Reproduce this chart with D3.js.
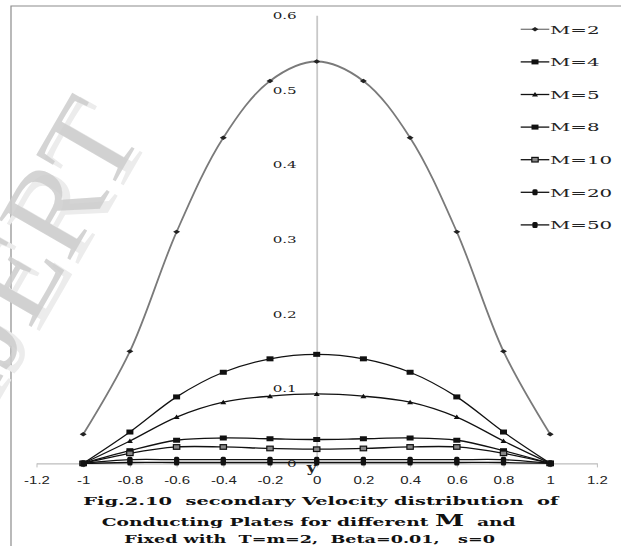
<!DOCTYPE html>
<html>
<head>
<meta charset="utf-8">
<script src="https://cdn.jsdelivr.net/npm/d3@7/dist/d3.min.js"></script>
<style>
  html, body { margin: 0; padding: 0; background: #fff; }
  svg { display: block; }
  .pre { white-space: pre; }
</style>
</head>
<body>
<svg id="chart" width="621" height="546"></svg>
<script>
// y positions across the channel
const yPositions = [-1, -0.8, -0.6, -0.4, -0.2, 0, 0.2, 0.4, 0.6, 0.8, 1];

// secondary velocity for each Hartmann number M
const velM2  = [0.039, 0.150, 0.310, 0.436, 0.512, 0.538, 0.512, 0.436, 0.310, 0.150, 0.039];
const velM4  = [0, 0.042, 0.089, 0.122, 0.140, 0.146, 0.140, 0.122, 0.089, 0.042, 0];
const velM5  = [0, 0.030, 0.062, 0.082, 0.090, 0.093, 0.090, 0.082, 0.062, 0.030, 0];
const velM8  = [0, 0.017, 0.031, 0.034, 0.033, 0.032, 0.033, 0.034, 0.031, 0.017, 0];
const velM10 = [0, 0.0135, 0.022, 0.022, 0.020, 0.019, 0.020, 0.022, 0.022, 0.0135, 0];
const velM20 = [0, 0.005, 0.005, 0.005, 0.005, 0.005, 0.005, 0.005, 0.005, 0.005, 0];
const velM50 = [0, 0.0012, 0.0012, 0.0012, 0.0012, 0.0012, 0.0012, 0.0012, 0.0012, 0.0012, 0];

const seriesNames = ["M=2", "M=4", "M=5", "M=8", "M=10", "M=20", "M=50"];
const seriesValues = [velM2, velM4, velM5, velM8, velM10, velM20, velM50];
const markerKinds = ["diamond", "square", "triangle", "square", "hollow", "dot", "dot"];

const xTicks = [-1.2, -1, -0.8, -0.6, -0.4, -0.2, 0, 0.2, 0.4, 0.6, 0.8, 1, 1.2];
const yTicks = [0, 0.1, 0.2, 0.3, 0.4, 0.5, 0.6];

const captionLines = [
  "Fig.2.10  secondary Velocity distribution  of",
  ["Conducting Plates for different ", "M", "  and"],
  "Fixed with  T=m=2,  Beta=0.01,   s=0"
];

const svg = d3.select("#chart");

const x = d3.scaleLinear().domain([-1.2, 1.2]).range([36.5, 596.9]);
const y = d3.scaleLinear().domain([0, 0.6]).range([463.4, 15.2]);

// page frame (top and left rules)
svg.append("path")
  .attr("d", "M11,546 L11,6 L621,6")
  .attr("fill", "none").attr("stroke", "#8c8c8c").attr("stroke-width", 1.2);

// x axis
const xAxis = svg.append("g")
  .attr("transform", `translate(0,${y(0)})`)
  .call(d3.axisBottom(x).tickValues(xTicks).tickSize(4).tickSizeOuter(0)
    .tickFormat(d => String(+d.toFixed(1))));
xAxis.select(".domain").attr("stroke", "#bdbdbd").attr("stroke-width", 1.2);
xAxis.selectAll(".tick line").attr("stroke", "#bdbdbd");
xAxis.selectAll(".tick text")
  .attr("y", 21).attr("dy", 0)
  .attr("font-family", "Liberation Sans, Arial, sans-serif")
  .attr("font-size", 10).attr("fill", "#222")
  .attr("transform", "scale(1.5,1)");

// y axis through y = 0
const yAxis = svg.append("g")
  .attr("transform", `translate(${x(0)},0)`)
  .call(d3.axisLeft(y).tickValues(yTicks).tickSize(0).tickSizeOuter(0)
    .tickFormat(d => String(+d.toFixed(1))));
yAxis.select(".domain").attr("stroke", "#c8c8c8").attr("stroke-width", 1.8);
yAxis.selectAll(".tick text")
  .attr("x", -20 / 1.68).attr("dy", "0.35em")
  .attr("font-family", "DejaVu Serif, serif")
  .attr("font-size", 9).attr("fill", "#222")
  .attr("transform", "scale(1.68,1)");

// axis title
svg.append("text")
  .attr("transform", `translate(${x(0) - 5},472) scale(1.3,1)`)
  .attr("text-anchor", "middle")
  .attr("font-family", "DejaVu Serif, serif").attr("font-weight", "bold")
  .attr("font-size", 13).attr("fill", "#222")
  .text("y");

// marker drawing
function drawMarker(g, kind) {
  if (kind === "diamond") {
    g.append("path").attr("d", "M-3.5,0 L0,-2.2 L3.5,0 L0,2.2 Z").attr("fill", "#222");
  } else if (kind === "square") {
    g.append("rect").attr("x", -3.5).attr("y", -2.5).attr("width", 7).attr("height", 5).attr("fill", "#111");
  } else if (kind === "triangle") {
    g.append("path").attr("d", "M-3,2 L0,-2.5 L3,2 Z").attr("fill", "#111");
  } else if (kind === "hollow") {
    g.append("rect").attr("x", -3.2).attr("y", -2.3).attr("width", 6.4).attr("height", 4.6)
      .attr("fill", "#888").attr("stroke", "#111").attr("stroke-width", 1.2);
  } else {
    g.append("rect").attr("x", -2.6).attr("y", -3).attr("width", 5.2).attr("height", 6).attr("rx", 1.5).attr("fill", "#111");
  }
}

const line = d3.line()
  .x(d => x(d[0]))
  .y(d => y(d[1]))
  .curve(d3.curveCatmullRom.alpha(0.5));

const plot = svg.append("g");
seriesValues.forEach((vals, i) => {
  const pts = yPositions.map((p, j) => [p, vals[j]]);
  const color = i === 0 ? "#7a7a7a" : "#111";
  plot.append("path")
    .datum(pts)
    .attr("d", line)
    .attr("fill", "none")
    .attr("stroke", color)
    .attr("stroke-width", i === 0 ? 1.8 : 1.3);
  pts.forEach(pt => {
    const m = plot.append("g").attr("transform", `translate(${x(pt[0])},${y(pt[1])})`);
    drawMarker(m, markerKinds[i]);
  });
});

// legend
const legend = svg.append("g");
seriesNames.forEach((name, i) => {
  const ly = 29.3 + i * 32.6;
  const color = i === 0 ? "#7a7a7a" : "#111";
  legend.append("line")
    .attr("x1", 520.7).attr("x2", 549.3).attr("y1", ly).attr("y2", ly)
    .attr("stroke", color).attr("stroke-width", 1.3);
  const m = legend.append("g").attr("transform", `translate(535,${ly})`);
  drawMarker(m, markerKinds[i]);
  legend.append("text")
    .attr("transform", `translate(550,${ly + 4.2}) scale(1.74,1)`)
    .attr("font-family", "DejaVu Serif, serif")
    .attr("font-size", 11.4).attr("fill", "#222")
    .text(name);
});

// caption
const cap = svg.append("g")
  .attr("font-family", "DejaVu Serif, serif")
  .attr("font-weight", "bold").attr("fill", "#111");
cap.append("text").attr("class", "pre")
  .attr("x", 83.3).attr("y", 505.2).attr("font-size", 11.4)
  .attr("textLength", 475).attr("lengthAdjust", "spacingAndGlyphs")
  .text(captionLines[0]);
const l2 = cap.append("text").attr("class", "pre")
  .attr("x", 101.7).attr("y", 525.8).attr("font-size", 11.4)
  .attr("textLength", 414).attr("lengthAdjust", "spacingAndGlyphs");
l2.append("tspan").text(captionLines[1][0]);
l2.append("tspan").attr("font-size", 16).text(captionLines[1][1]);
l2.append("tspan").text(captionLines[1][2]);
cap.append("text").attr("class", "pre")
  .attr("x", 124.3).attr("y", 542.5).attr("font-size", 11.4)
  .attr("textLength", 370.7).attr("lengthAdjust", "spacingAndGlyphs")
  .text(captionLines[2]);

// publisher watermark: pale shadow copy, then the main copy
const wm = svg.append("g")
  .attr("font-family", "Liberation Serif, serif")
  .attr("font-size", 125);
wm.append("text")
  .attr("transform", "translate(-7.3,412.1) rotate(-60)")
  .attr("fill", "#ececec")
  .text("IJERT");
wm.append("text")
  .attr("transform", "translate(-15.3,408.1) rotate(-60)")
  .attr("fill", "#cdcdcd").attr("fill-opacity", 0.85)
  .text("IJERT");
</script>
</body>
</html>
